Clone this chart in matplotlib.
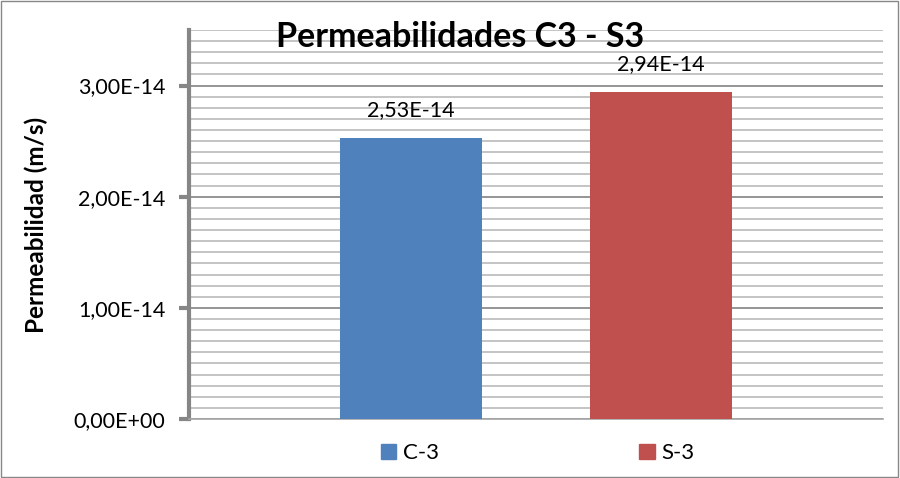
import matplotlib.pyplot as plt
from matplotlib.ticker import MultipleLocator, FuncFormatter
from matplotlib.patches import Rectangle

plt.rcParams['font.family'] = ['Lato', 'DejaVu Sans']

# data
series = ['C-3', 'S-3']
values = [2.53e-14, 2.94e-14]
value_labels = ['2,53E-14', '2,94E-14']
y_ticks = [0, 1e-14, 2e-14, 3e-14]
colors = ['#4F81BD', '#C0504D']

fig = plt.figure(figsize=(9, 4.78), dpi=100)
ax = fig.add_axes([189/900, 1 - 419/478, (883-189)/900, (419-30)/478])

x = list(range(len(series)))
bars = ax.bar(x, values, width=0.568, color=colors, zorder=3)

# value labels above bars
for b, lab in zip(bars, value_labels):
    ax.text(b.get_x() + b.get_width()/2, b.get_height() + 0.16e-14, lab,
            ha='center', va='bottom', fontsize=15.5, zorder=4)

ax.set_xlim(-0.889, 1.889)
ax.set_ylim(0, 3.5e-14)
ax.set_yticks(y_ticks)
ax.yaxis.set_minor_locator(MultipleLocator(1e-15))
ax.yaxis.set_major_formatter(FuncFormatter(lambda v, p: ('%.2E' % v).replace('.', ',')))

ax.grid(axis='y', which='major', color='#8c8c8c', linewidth=1.3, zorder=1)
ax.grid(axis='y', which='minor', color='#bfbfbf', linewidth=1.3, zorder=1)

ax.set_xticks([])
ax.tick_params(axis='y', which='major', length=7, width=3, color='#868686',
               labelsize=15.5, pad=10)
ax.tick_params(axis='y', which='minor', length=0)

for s in ['top', 'right']:
    ax.spines[s].set_visible(False)
ax.spines['left'].set_color('#868686')
ax.spines['left'].set_linewidth(3)
ax.spines['bottom'].set_color('#a6a6a6')
ax.spines['bottom'].set_linewidth(1.2)

ax.set_ylabel('Permeabilidad (m/s)', fontsize=17.5, fontweight='bold')
ax.yaxis.set_label_coords(-0.203, 0.499)

fig.text(460/900, 1 - 47/478, 'Permeabilidades C3 - S3', ha='center', va='baseline',
         fontsize=24.5, fontweight='bold')

# legend
handles = [Rectangle((0, 0), 1, 1, color=c) for c in colors]
fig.legend(handles, series, loc='center', bbox_to_anchor=(538/900, 1 - 453/478), ncol=2,
           frameon=False, fontsize=16, handlelength=0.68, handleheight=0.68,
           handletextpad=0.32, columnspacing=9)

# outer border
fig.patches.append(Rectangle((0.001, 0.002), 0.997, 0.996, transform=fig.transFigure,
                             fill=False, edgecolor='#888888', linewidth=1))

fig.savefig('out.png', dpi=100)
